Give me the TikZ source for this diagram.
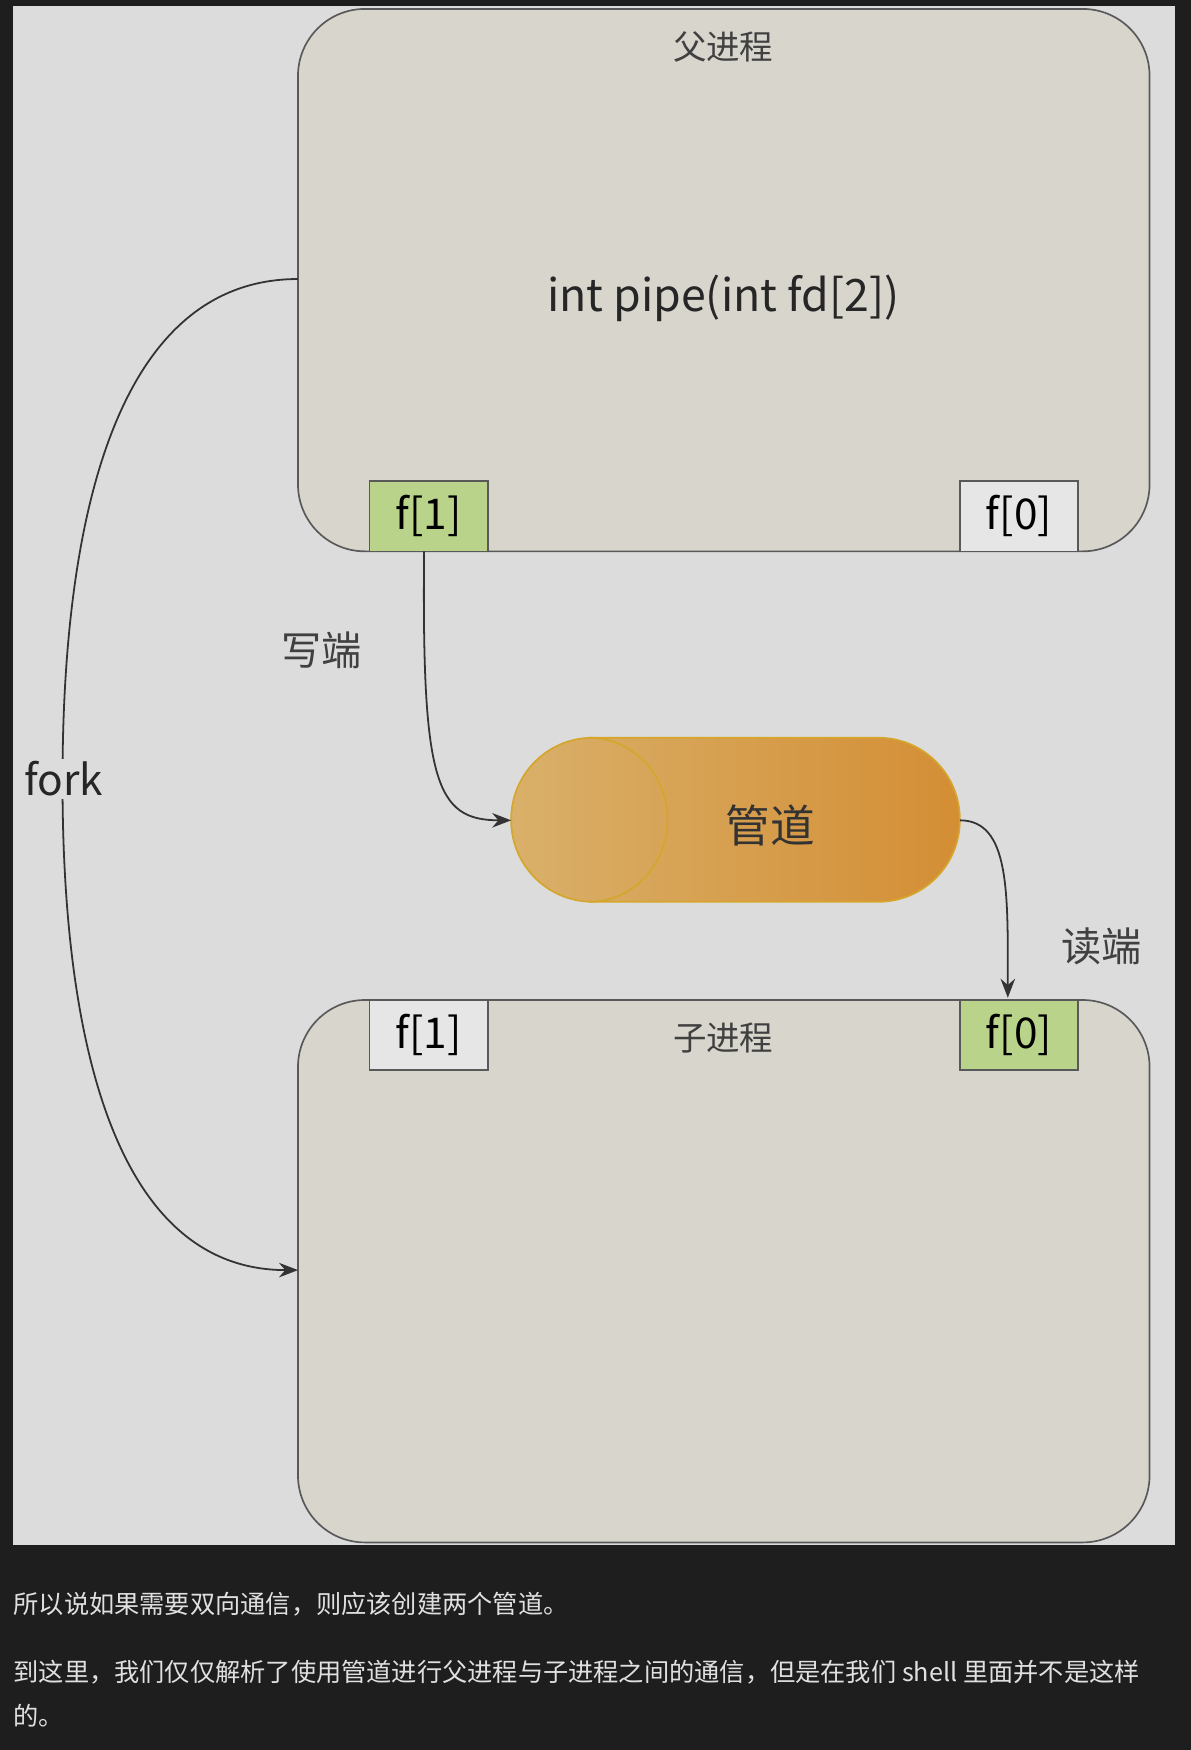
\documentclass[tikz,border=0pt]{standalone}
\usepackage{fontspec}
\setmainfont{Noto Sans CJK SC}
\usetikzlibrary{arrows.meta}
\definecolor{bgdark}{HTML}{1E1E1E}
\definecolor{panel}{HTML}{DCDCDC}
\definecolor{proc}{HTML}{D8D5CD}
\definecolor{greenf}{HTML}{B9D48A}
\definecolor{greyf}{HTML}{E6E6E6}
\definecolor{pipeL}{HTML}{D9B06A}
\definecolor{pipeR}{HTML}{D48E34}
\definecolor{pipeB}{HTML}{D6A62C}
\definecolor{txt}{HTML}{E0E0E0}
\tikzset{
  procbox/.style={draw=black!65, line width=1.5pt, fill=proc, rounded corners=60pt},
  fbox/.style={draw=black!65, line width=1.5pt, minimum width=106pt, minimum height=63pt, inner sep=0pt, font=\fontsize{38}{40}\selectfont},
  conn/.style={draw=black!80, line width=1.6pt, -{Stealth[length=17pt,width=13pt]}},
  lbl/.style={font=\fontsize{36}{40}\selectfont, text=black!75},
  captxt/.style={anchor=west, text=txt, font=\fontsize{22.6}{26}\selectfont, inner sep=0pt},
}
\begin{document}
\begin{tikzpicture}[x=1pt,y=-1pt]
\fill[bgdark] (0,0) rectangle (1067,1568);
\useasboundingbox (0,0) rectangle (1067,1568);
\fill[panel] (12,5) rectangle (1053,1384);
% parent
\draw[procbox] (267,8) rectangle (1030,494);
\node[font=\fontsize{30}{34}\selectfont, text=black!75] (pt) at (648,42) {父进程};
\node[font=\fontsize{40}{44}\selectfont, text=black!85] (code) at (648,267) {int pipe(int fd[2])};
\node[fbox, fill=greenf] (pf1) at (384,462.5) {f[1]};
\node[fbox, fill=greyf] (pf0) at (913,462.5) {f[0]};
% child
\draw[procbox] (267,896) rectangle (1030,1382);
\node[font=\fontsize{30}{34}\selectfont, text=black!75] (ct) at (648,930) {子进程};
\node[fbox, fill=greyf] (cf1) at (384,927.5) {f[1]};
\node[fbox, fill=greenf] (cf0) at (913,927.5) {f[0]};
\coordinate (parL) at (267,250);
\coordinate (chL) at (267,1138);
\coordinate (cf0in) at (903,894);
\coordinate (pf1out) at (380,494);
% pipe
\shade[left color=pipeL, right color=pipeR, draw=pipeB, line width=1.5pt, rounded corners=73pt] (458,661) rectangle (860,808);
\draw[pipeB, line width=1.5pt] (528,661) arc[start angle=90, end angle=-90, x radius=70pt, y radius=73.5pt];
\node[font=\fontsize{40}{44}\selectfont, text=black!80] (pipe) at (690,740) {管道};
\coordinate (pipeIn) at (458,735);
\coordinate (pipeOut) at (860,735);
% connectors
\draw[conn] (pf1out) .. controls (378,700) and (390,735) .. (pipeIn);
\draw[conn] (pipeOut) .. controls (905,735) and (903,800) .. (cf0in);
\draw[conn] (parL) .. controls (110,250) and (56,450) .. (56,700) .. controls (56,950) and (110,1138) .. (chL);
\node[lbl, fill=panel, inner sep=2pt, font=\fontsize{38}{40}\selectfont, text=black!85] (fork) at (57,698) {fork};
\node[lbl] (w) at (288,583) {写端};
\node[lbl] (r) at (987,848) {读端};
% caption text
\node[captxt] (t1) at (12,1437) {所以说如果需要双向通信，则应该创建两个管道。};
\node[captxt] (t2) at (12,1498) {到这里，我们仅仅解析了使用管道进行父进程与子进程之间的通信，但是在我们 shell 里面并不是这样};
\node[captxt] (t3) at (12,1537) {的。};
\end{tikzpicture}
\end{document}
